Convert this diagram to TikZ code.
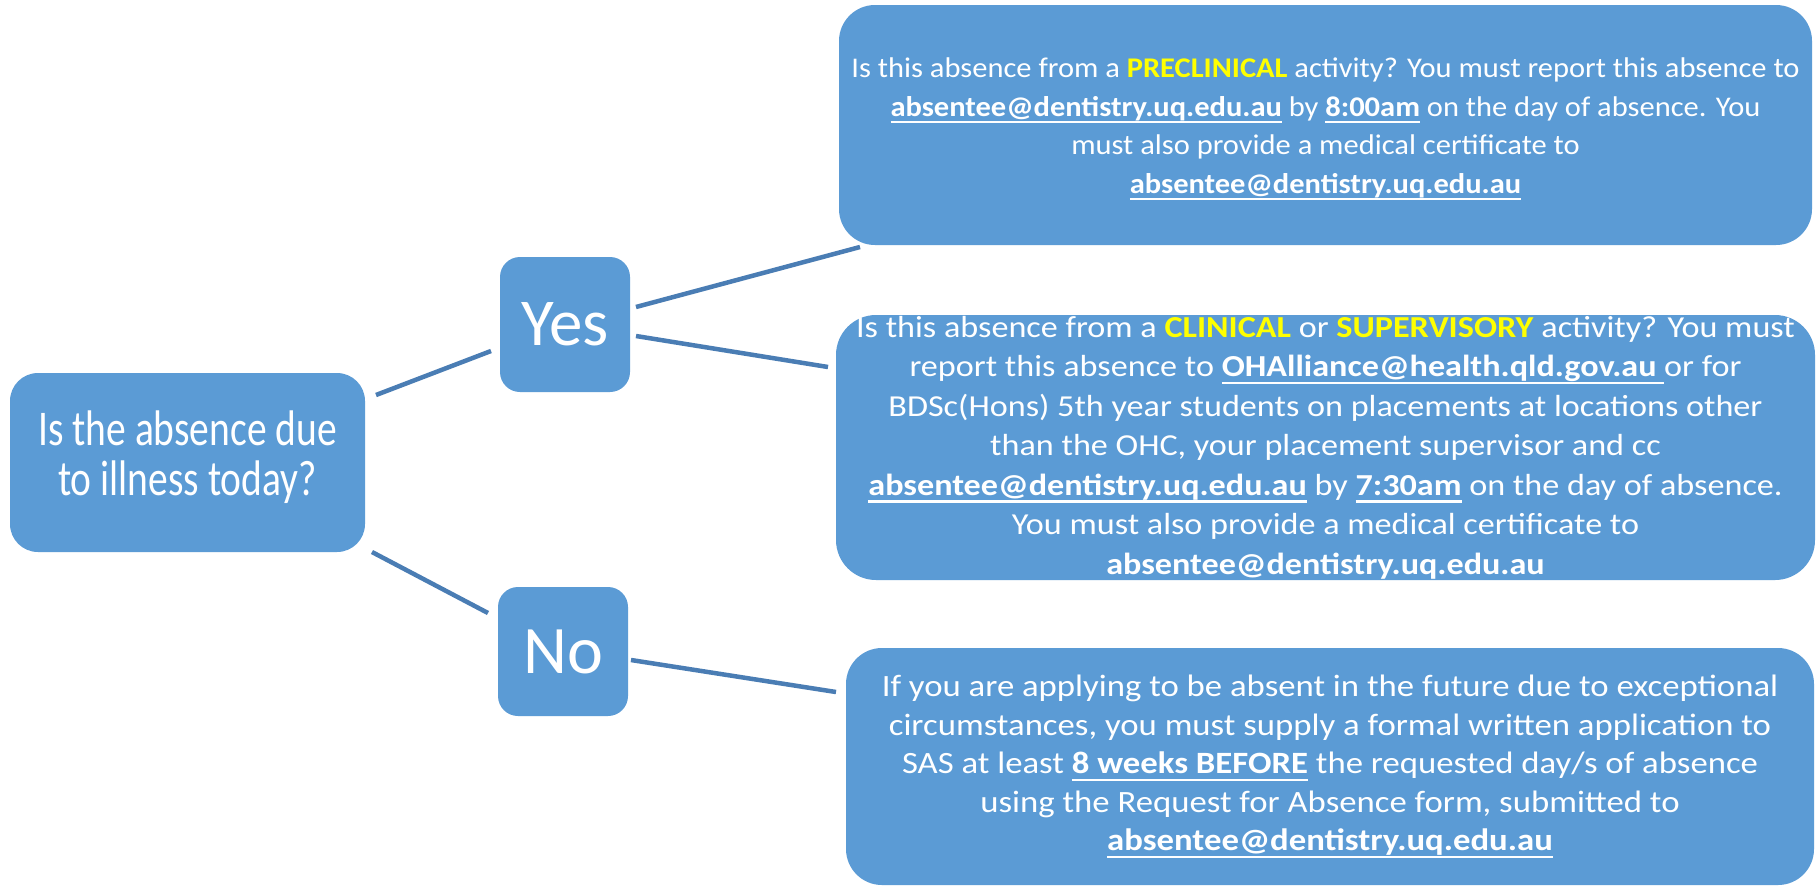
\documentclass[tikz,border=0pt]{standalone}
\usepackage{fontspec}
\setmainfont{Carlito}
\newfontfamily\fq{Carlito}[FakeStretch=0.79]
\newfontfamily\fpre{Carlito}[FakeStretch=1.07]
\newfontfamily\fcli{Carlito}[FakeStretch=1.12]
\newfontfamily\ffut{Carlito}[FakeStretch=1.12]
\definecolor{boxblue}{HTML}{5B9BD5}
\definecolor{linkblue}{HTML}{4A7DB4}
\definecolor{hiyel}{HTML}{FFFF00}
\newcommand\bul[1]{\leavevmode\setbox0\hbox{\textbf{#1}}\rlap{\rule[-0.24em]{\wd0}{0.07em}}\box0\relax}
\newcommand\hy[1]{\textcolor{hiyel}{\textbf{#1}}}
\begin{document}
\begin{tikzpicture}[x=1pt,y=-1pt,
  every node/.style={inner sep=0pt, outer sep=0pt},
  box/.style={fill=boxblue, text=white, align=center},
  txt/.style={text=white, align=center},
  conn/.style={draw=linkblue, line width=4.5pt}]
\useasboundingbox[fill=white] (0,0) rectangle (1820,887);

\node[box, rounded corners=28pt, minimum width=355pt, minimum height=179pt] (q) at (187.5,462.5) {};
\node[txt, font=\fq\fontsize{50}{50}\selectfont] (qtext) at ([shift={(0,-5)}]q.center)
  {Is the absence due\\to illness today?};

\node[box, rounded corners=20pt, minimum width=130pt, minimum height=135pt,
  font=\fontsize{67}{67}\selectfont] (yes) at (565,324.5) {Yes};
\node[box, rounded corners=20pt, minimum width=130pt, minimum height=129pt,
  font=\fontsize{68}{68}\selectfont] (no) at (563,651.5) {No};

\node[box, rounded corners=36pt, minimum width=973pt, minimum height=240pt] (pre) at (1325.5,125) {};
\node[txt, font=\fpre\fontsize{28.5}{38.5}\selectfont] (pretext) at ([shift={(0,4)}]pre.center)
  {Is this absence from a \hy{PRECLINICAL} activity? You must report this absence to\\
   \bul{absentee@dentistry.uq.edu.au} by \bul{8:00am} on the day of absence. You\\
   must also provide a medical certificate to\\
   \bul{absentee@dentistry.uq.edu.au}};

\node[box, rounded corners=40pt, minimum width=979pt, minimum height=265pt,
  font=\fcli\fontsize{30.5}{39.5}\selectfont] (cli) at (1325.5,447.5)
  {Is this absence from a \hy{CLINICAL} or \hy{SUPERVISORY} activity? You must\\
   report this absence to \bul{OHAlliance@health.qld.gov.au\ }or for\\
   BDSc(Hons) 5th year students on placements at locations other\\
   than the OHC, your placement supervisor and cc\\
   \bul{absentee@dentistry.uq.edu.au} by \bul{7:30am} on the day of absence.\\
   You must also provide a medical certificate to\\
   \textbf{absentee@dentistry.uq.edu.au}};

\node[box, rounded corners=36pt, minimum width=968pt, minimum height=237pt,
  font=\ffut\fontsize{31}{38.5}\selectfont] (fut) at (1330,766.5)
  {If you are applying to be absent in the future due to exceptional\\
   circumstances, you must supply a formal written application to\\
   SAS at least \bul{8 weeks BEFORE} the requested day/s of absence\\
   using the Request for Absence form, submitted to\\
   \bul{absentee@dentistry.uq.edu.au}};

\draw[conn] ([shift={(11,22)}]q.north east) -- ([shift={(-9,-41)}]yes.south west);
\draw[conn] ([shift={(7,0)}]q.south east) -- ([shift={(-10,26)}]no.north west);
\draw[conn] ([shift={(6,50)}]yes.north east) -- ([shift={(21,2)}]pre.south west);
\draw[conn] ([shift={(6,79)}]yes.north east) -- ([shift={(-8,52)}]cli.north west);
\draw[conn] ([shift={(3,73)}]no.north east) -- ([shift={(-10,44)}]fut.north west);
\end{tikzpicture}
\end{document}
